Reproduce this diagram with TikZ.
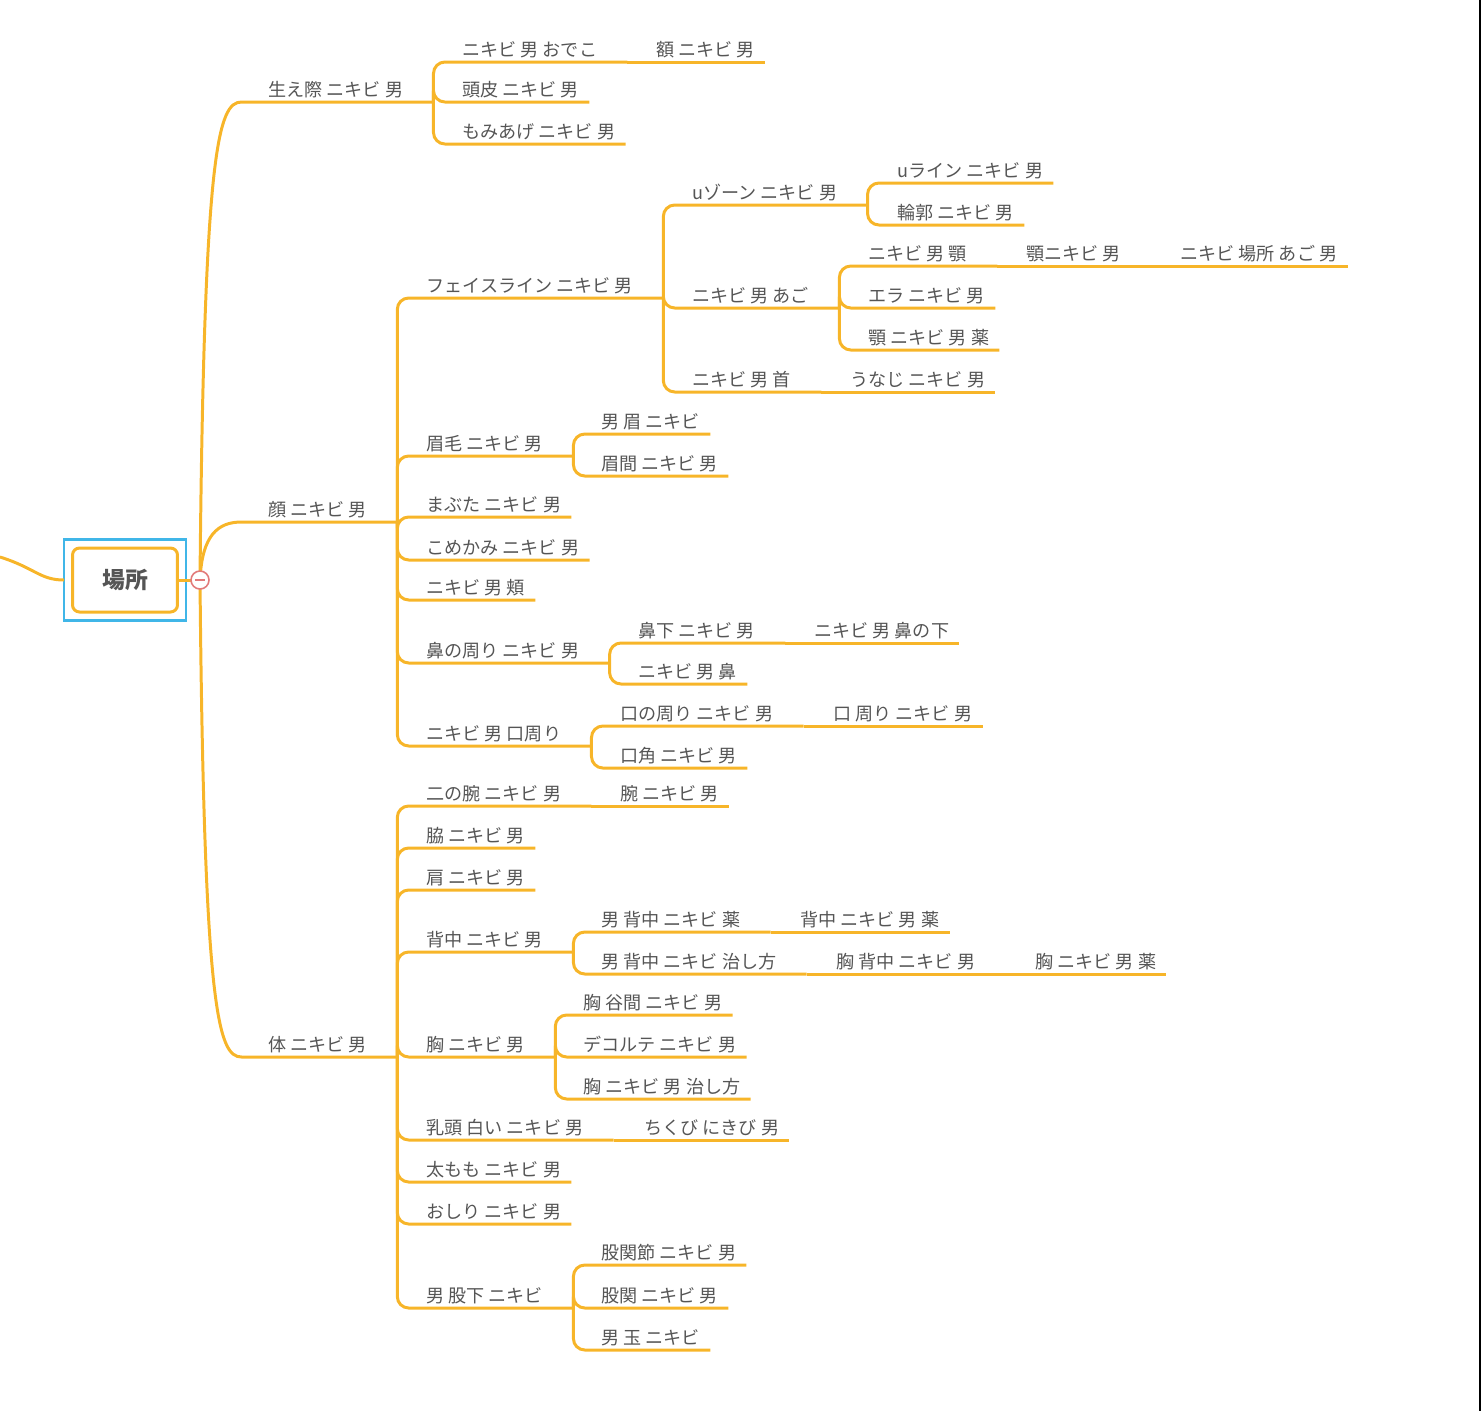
\documentclass[tikz,border=0pt]{standalone}
\usepackage{fontspec}
\setmainfont{Noto Sans CJK JP}
\usepackage{xcolor}
\usetikzlibrary{calc}

\definecolor{mmorange}{RGB}{247,181,41}
\definecolor{mmtext}{RGB}{85,85,85}
\definecolor{mmblue}{RGB}{64,182,232}
\definecolor{mmred}{RGB}{226,122,122}

\begin{document}
\begin{tikzpicture}[x=0.02cm, y=-0.02cm,
  topic/.style={anchor=south west, inner sep=0pt, text depth=2.8pt, text=mmtext, font=\fontsize{10.3}{12}\selectfont},
  branch/.style={draw=mmorange, line width=1.7pt, rounded corners=6.5pt}]
\useasboundingbox (0,0) rectangle (1481,1421);

% Root
\node[draw=mmorange, line width=1.7pt, rounded corners=4pt, fill=white, minimum width=2.1cm, minimum height=1.28cm, text=mmtext, font=\fontsize{13}{15}\selectfont\bfseries] (root) at (125,580) {場所};
\draw[draw=mmblue, line width=1.4pt] ($(root.north west)+(-7,-7)$) rectangle ($(root.south east)+(7,7)$);
\coordinate (hub) at (200,580);
\coordinate (up) at (0,557);
\draw[branch] (up) .. controls (35,568) and (40,580) .. ($(root.west)+(-7,0)$);

% First level
\node[topic] (hair) at (268,102) {生え際 ニキビ 男};
\node[topic] (face) at (268,522) {顔 ニキビ 男};
\node[topic] (body) at (268,1057) {体 ニキビ 男};

% Hairline
\node[topic] (forehead) at (462,62) {ニキビ 男 おでこ};
\node[topic] (gaku) at (656,62) {額 ニキビ 男};
\node[topic] (scalp) at (462,102) {頭皮 ニキビ 男};
\node[topic] (sideburn) at (462,144) {もみあげ ニキビ 男};

% Face
\node[topic] (jaw) at (426,298) {フェイスライン ニキビ 男};
\node[topic] (uzone) at (692,205) {uゾーン ニキビ 男};
\node[topic] (uline) at (897,183) {uライン ニキビ 男};
\node[topic] (contour) at (897,225) {輪郭 ニキビ 男};
\node[topic] (chin) at (692,308) {ニキビ 男 あご};
\node[topic] (chinA) at (868,266) {ニキビ 男 顎};
\node[topic] (chinB) at (1026,266) {顎ニキビ 男};
\node[topic] (chinC) at (1180,266) {ニキビ 場所 あご 男};
\node[topic] (gill) at (868,308) {エラ ニキビ 男};
\node[topic] (chinD) at (868,350) {顎 ニキビ 男 薬};
\node[topic] (neck) at (692,392) {ニキビ 男 首};
\node[topic] (nape) at (850,392) {うなじ ニキビ 男};
\node[topic] (brows) at (426,456) {眉毛 ニキビ 男};
\node[topic] (browA) at (601,434) {男 眉 ニキビ};
\node[topic] (glabella) at (601,476) {眉間 ニキビ 男};
\node[topic] (lid) at (426,517) {まぶた ニキビ 男};
\node[topic] (temple) at (426,560) {こめかみ ニキビ 男};
\node[topic] (cheek) at (426,600) {ニキビ 男 頬};
\node[topic] (nose) at (426,663) {鼻の周り ニキビ 男};
\node[topic] (underNose) at (638,643) {鼻下 ニキビ 男};
\node[topic] (underNoseB) at (814,643) {ニキビ 男 鼻の下};
\node[topic] (noseB) at (638,684) {ニキビ 男 鼻};
\node[topic] (mouth) at (426,746) {ニキビ 男 口周り};
\node[topic] (mouthA) at (620,726) {口の周り ニキビ 男};
\node[topic] (mouthB) at (833,726) {口 周り ニキビ 男};
\node[topic] (corner) at (620,768) {口角 ニキビ 男};

% Body
\node[topic] (upperArm) at (426,806) {二の腕 ニキビ 男};
\node[topic] (arm) at (620,806) {腕 ニキビ 男};
\node[topic] (armpit) at (426,848) {脇 ニキビ 男};
\node[topic] (shoulder) at (426,890) {肩 ニキビ 男};
\node[topic] (back) at (426,952) {背中 ニキビ 男};
\node[topic] (backA) at (601,932) {男 背中 ニキビ 薬};
\node[topic] (backB) at (800,932) {背中 ニキビ 男 薬};
\node[topic] (backC) at (601,974) {男 背中 ニキビ 治し方};
\node[topic] (backD) at (836,974) {胸 背中 ニキビ 男};
\node[topic] (backE) at (1035,974) {胸 ニキビ 男 薬};
\node[topic] (chest) at (426,1057) {胸 ニキビ 男};
\node[topic] (cleavage) at (583,1015) {胸 谷間 ニキビ 男};
\node[topic] (decollete) at (583,1057) {デコルテ ニキビ 男};
\node[topic] (chestCure) at (583,1099) {胸 ニキビ 男 治し方};
\node[topic] (nipple) at (426,1140) {乳頭 白い ニキビ 男};
\node[topic] (nippleB) at (644,1140) {ちくび にきび 男};
\node[topic] (thigh) at (426,1182) {太もも ニキビ 男};
\node[topic] (hip) at (426,1224) {おしり ニキビ 男};
\node[topic] (crotch) at (426,1308) {男 股下 ニキビ};
\node[topic] (hipJoint) at (601,1265) {股関節 ニキビ 男};
\node[topic] (groin) at (601,1308) {股関 ニキビ 男};
\node[topic] (ball) at (601,1350) {男 玉 ニキビ};

% Curves out of the root
\draw[branch] (hub) .. controls (204,150) and (218,102) .. ($(hair.south west)+(-15,0)$) -- ($(hair.south east)+(30,0)$);
\draw[branch] (hub) .. controls (202,535) and (218,522) .. ($(face.south west)+(-15,0)$) -- ($(face.south east)+(30,0)$);
\draw[branch] (hub) .. controls (204,1010) and (218,1057) .. ($(body.south west)+(-15,0)$) -- ($(body.south east)+(30,0)$);

% Links to topics that have subtopics
\foreach \p/\c in {hair/forehead, face/jaw, jaw/uzone, jaw/chin, jaw/neck, chin/chinA,
    face/brows, face/nose, nose/underNose, face/mouth, mouth/mouthA, body/upperArm, body/back,
    back/backA, back/backC, body/chest, body/nipple, body/crotch}
  \draw[branch] ($(\p.south east)+(30,0)$) |- (\c.south west) -- ($(\c.south east)+(30,0)$);

% Links to leaves
\foreach \p/\c in {hair/scalp, hair/sideburn, uzone/uline, uzone/contour,
    chin/gill, chin/chinD, brows/browA, brows/glabella, face/lid, face/temple, face/cheek,
    nose/noseB, mouth/corner, body/armpit, body/shoulder, chest/cleavage, chest/decollete,
    chest/chestCure, body/thigh, body/hip, crotch/hipJoint, crotch/groin, crotch/ball}
  \draw[branch] ($(\p.south east)+(30,0)$) |- (\c.south west) -- ($(\c.south east)+(10,0)$);

% Single subtopics run straight on
\foreach \p/\c/\t in {chinA/chinB/30, backC/backD/30, forehead/gaku/10, chinB/chinC/10, neck/nape/10,
    underNose/underNoseB/10, mouthA/mouthB/10, upperArm/arm/10, backA/backB/10, backD/backE/10,
    nipple/nippleB/10}
  \draw[branch] ($(\p.south east)+(30,0)$) -- (\c.south west) -- ($(\c.south east)+(\t,0)$);

% Fold marker
\draw[branch] (root.east) -- (hub);
\node[circle, draw=mmred, line width=0.9pt, fill=white, minimum size=0.36cm, inner sep=0pt] (fold) at (hub) {};
\draw[draw=mmred, line width=0.9pt] ($(fold.center)+(-5,0)$) -- ($(fold.center)+(5,0)$);

% Edge of the window
\draw[line width=0.8pt] (1480,0) -- (1480,1411);
\end{tikzpicture}
\end{document}
